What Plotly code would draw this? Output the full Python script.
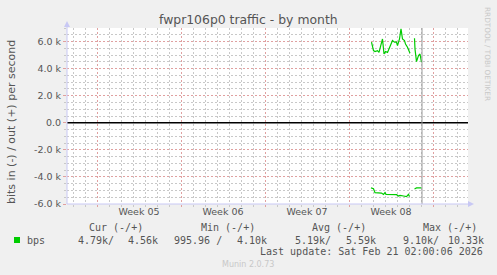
import plotly.graph_objects as go

# ---------------- data ----------------
out_time = ["2026-02-16 21:00", "2026-02-17 01:00", "2026-02-17 04:00", "2026-02-17 09:00",
            "2026-02-17 12:00", "2026-02-17 16:00", "2026-02-17 19:00", "2026-02-17 22:00",
            "2026-02-18 01:00", "2026-02-18 05:00", "2026-02-18 10:00", "2026-02-18 15:00",
            "2026-02-18 19:00", "2026-02-18 23:00", "2026-02-19 01:00", "2026-02-19 05:00",
            "2026-02-19 08:00", "2026-02-19 11:00", "2026-02-19 15:00", "2026-02-19 17:00",
            "2026-02-19 21:00", "2026-02-20 00:00", "2026-02-20 02:00", "2026-02-20 06:00",
            "2026-02-20 11:00", "2026-02-20 12:00", "2026-02-20 15:00", "2026-02-20 19:00",
            "2026-02-20 22:00", "2026-02-21 00:00", "2026-02-21 01:00"]
out_bps = [5950, 5330, 5260, 5330, 5200, 5820, 6190, 5080, 5260, 5200, 5700, 6070,
           5950, 5950, 5700, 6190, 6930, 6190, 6070, 5820, 5580, 5200, 5130, None,
           6240, 5450, 4520, 4960, 5080, 4710, 4470]

in_time = ["2026-02-16 20:00", "2026-02-17 01:00", "2026-02-17 04:00", "2026-02-17 11:00",
           "2026-02-17 17:00", "2026-02-17 21:00", "2026-02-18 00:00", "2026-02-18 02:00",
           "2026-02-18 10:00", "2026-02-18 17:00", "2026-02-18 23:00", "2026-02-19 03:00",
           "2026-02-19 06:00", "2026-02-19 13:00", "2026-02-19 19:00", "2026-02-19 23:00",
           "2026-02-20 01:00", "2026-02-20 06:00", "2026-02-20 11:00", "2026-02-20 15:00",
           "2026-02-21 01:00"]
in_bps = [-4810, -4870, -5160, -5190, -5190, -5290, -5160, -5290, -5290, -5310, -5310,
          -5410, -5360, -5410, -5460, -5290, -5440, None, -4890, -4810, -4810]

now_time = "2026-02-21 02:00"
x_range = ["2026-01-22 12:00", "2026-02-24 22:00"]
week_start = "2026-02-15"
week_centers = ["2026-01-28 12:00", "2026-02-04 12:00", "2026-02-11 12:00", "2026-02-18 12:00"]
week_labels = ["Week 05", "Week 06", "Week 07", "Week 08"]

y_tickvals = [-6000, -4000, -2000, 0, 2000, 4000, 6000]
y_ticktext = ["-6.0 k", "-4.0 k", "-2.0 k", "0.0", "2.0 k", "4.0 k", "6.0 k"]
y_range = [-6000, 7000]

title = "fwpr106p0 traffic - by month"
y_title = "bits in (-) / out (+) per second"
legend_headers = ["Cur (-/+)", "Min (-/+)", "Avg (-/+)", "Max (-/+)"]
series_name = "bps"
legend_values = ["4.79k/", "4.56k", "995.96 /", "4.10k", "5.19k/", "5.59k", "9.10k/", "10.33k"]
last_update = "Last update: Sat Feb 21 02:00:06 2026"
footer = "Munin 2.0.73"
side_text = "RRDTOOL / TOBI OETIKER"

# ---------------- layout geometry (pixels) ----------------
W, H = 497, 275
L, R, T, B = 67, 468, 28, 204


def px(x):
    return (x - L) / (R - L)


def py(y):
    return (B - y) / (B - T)


GREEN = "#00CC00"
TXT = "#555555"
MGRID = "#e0a0a0"
GRID = "#c8c8c8"
AXIS = "#c8c8f4"
DASH = "2px,2px"

fig = go.Figure()
fig.add_trace(go.Scatter(x=out_time, y=out_bps, mode="lines",
                         line=dict(color=GREEN, width=1.2), connectgaps=False,
                         hoverinfo="skip"))
fig.add_trace(go.Scatter(x=in_time, y=in_bps, mode="lines",
                         line=dict(color=GREEN, width=1.2), connectgaps=False,
                         hoverinfo="skip"))
# carrier trace for the week label axis
fig.add_trace(go.Scatter(x=week_centers, y=[None] * len(week_centers), xaxis="x2",
                         mode="lines", hoverinfo="skip"))

fig.update_layout(
    width=W, height=H,
    margin=dict(l=L, r=W - R, t=T, b=H - B, pad=0),
    paper_bgcolor="#F0F0F0", plot_bgcolor="#FFFFFF",
    showlegend=False,
    font=dict(family="DejaVu Sans", color=TXT, size=9),
    xaxis=dict(type="date", range=x_range, showticklabels=False,
               tick0=week_start, dtick=7 * 86400000,
               showgrid=True, gridcolor=MGRID, griddash=DASH, gridwidth=1,
               ticks="outside", ticklen=2, tickcolor=MGRID,
               minor=dict(dtick=86400000, tick0=week_start, showgrid=True,
                          gridcolor=GRID, griddash=DASH, gridwidth=1,
                          ticks="outside", ticklen=2, tickcolor=GRID),
               showline=False, zeroline=False),
    xaxis2=dict(type="date", range=x_range, overlaying="x", side="bottom",
                anchor="y", tickvals=week_centers, ticktext=week_labels,
                showgrid=False, ticks="", showline=False, zeroline=False,
                tickfont=dict(size=9.5, color=TXT)),
    yaxis=dict(range=y_range, tickvals=y_tickvals, ticktext=y_ticktext,
               showgrid=True, gridcolor=MGRID, griddash=DASH, gridwidth=1,
               ticks="outside", ticklen=3, tickcolor=MGRID,
               tickfont=dict(size=9.5, color=TXT),
               minor=dict(dtick=500, tick0=0, showgrid=True, gridcolor=GRID,
                          griddash=DASH, gridwidth=1, ticks="outside",
                          ticklen=2, tickcolor=GRID),
               showline=False, zeroline=False),
)

shapes = []
# zero line
shapes.append(dict(type="line", xref="paper", yref="y", x0=0, x1=1, y0=0, y1=0,
                   line=dict(color="#000000", width=1.5)))
# now line
shapes.append(dict(type="line", xref="x", yref="paper", x0=now_time, x1=now_time,
                   y0=0, y1=1, line=dict(color="#999999", width=1)))
# axes with arrows
shapes.append(dict(type="line", xref="paper", yref="paper", x0=px(67), x1=px(67),
                   y0=py(204), y1=py(24), line=dict(color=AXIS, width=1)))
shapes.append(dict(type="line", xref="paper", yref="paper", x0=px(67), x1=px(470),
                   y0=py(204), y1=py(204), line=dict(color=AXIS, width=1)))
shapes.append(dict(type="path", xref="paper", yref="paper",
                   path=f"M {px(64)} {py(27)} L {px(70)} {py(27)} L {px(67)} {py(21)} Z",
                   fillcolor=AXIS, line=dict(width=0)))
shapes.append(dict(type="path", xref="paper", yref="paper",
                   path=f"M {px(468)} {py(201)} L {px(468)} {py(207)} L {px(474)} {py(204)} Z",
                   fillcolor=AXIS, line=dict(width=0)))
# legend swatch
shapes.append(dict(type="rect", xref="paper", yref="paper", x0=px(14), x1=px(20),
                   y0=py(243), y1=py(237), fillcolor=GREEN, line=dict(width=0)))
fig.update_layout(shapes=shapes)

ann = []


def text(t, x, y, size=10, family="DejaVu Sans Mono", color=TXT, xanchor="left", angle=0):
    ann.append(dict(text=t, x=px(x), y=py(y), xref="paper", yref="paper",
                    xanchor=xanchor, yanchor="middle", showarrow=False,
                    borderpad=0, borderwidth=0, textangle=angle,
                    font=dict(family=family, size=size, color=color)))


text(title, 248, 19, size=12.4, family="DejaVu Sans", xanchor="center")
text(y_title, 11, 122, size=11, family="DejaVu Sans", xanchor="center", angle=-90)
text(side_text, 488, 54, size=7.3, family="DejaVu Sans", color="#c8c8c8",
     xanchor="center", angle=90)

hdr_x = [89.3, 201, 312, 422.7]
for t, x in zip(legend_headers, hdr_x):
    text(t, x, 227.7)
text(series_name, 26.7, 240)
val_x = [78.3, 128.3, 174.3, 237.3, 295.3, 345.7, 403.3, 447.7]
for t, x in zip(legend_values, val_x):
    text(t, x, 240)
text(last_update, 482.7, 251.7, xanchor="right")
text(footer, 248, 264, size=8, family="DejaVu Sans", color="#c8c8c8", xanchor="center")

fig.update_layout(annotations=ann)
fig.write_html("out.html")
